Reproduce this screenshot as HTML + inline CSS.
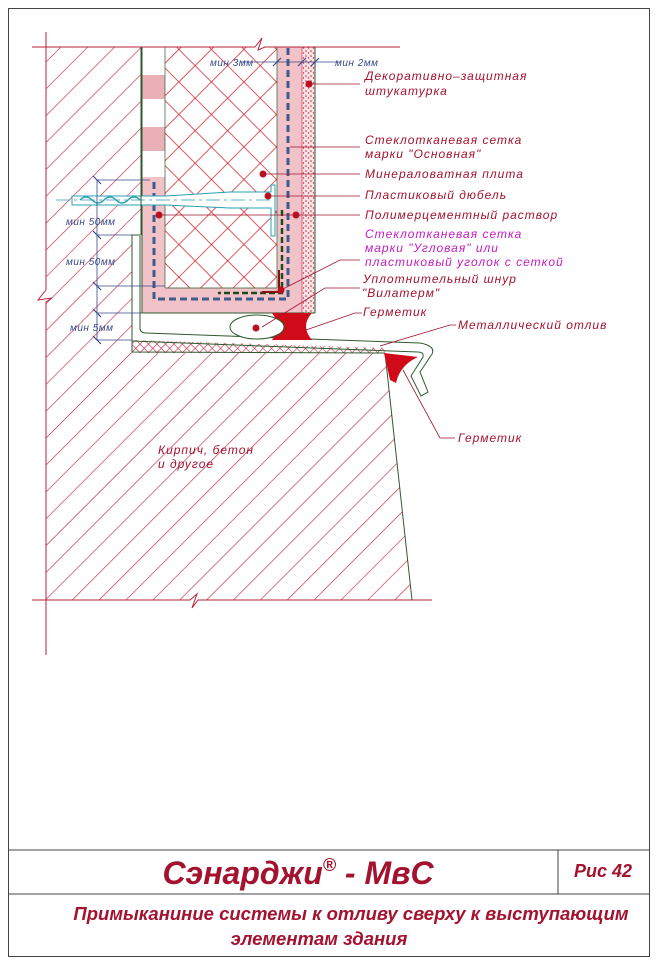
<!DOCTYPE html>
<html><head><meta charset="utf-8"><style>
html,body{margin:0;padding:0;background:#fff;}
svg{display:block}
text{font-family:"Liberation Sans","DejaVu Sans",sans-serif;}
.lb{font-style:italic;font-size:12px;fill:#a3122e;letter-spacing:1px}
.dm{font-style:italic;font-size:10px;fill:#3a4a8a;letter-spacing:0.5px}
</style></head><body>
<svg width="657" height="967" viewBox="0 0 657 967" xmlns="http://www.w3.org/2000/svg">
<defs>
<pattern id="diag" patternUnits="userSpaceOnUse" width="19" height="19" patternTransform="rotate(45)">
<line x1="0" y1="0" x2="0" y2="19" stroke="#c42a45" stroke-width="1.3"/>
</pattern>
<pattern id="cross" patternUnits="userSpaceOnUse" width="23" height="23" patternTransform="rotate(45)">
<line x1="0" y1="0" x2="0" y2="23" stroke="#d0202a" stroke-width="1.5"/>
<line x1="0" y1="0" x2="23" y2="0" stroke="#d0202a" stroke-width="1.5"/>
</pattern>
<pattern id="fine" patternUnits="userSpaceOnUse" width="6" height="6" patternTransform="rotate(45)">
<rect width="6" height="6" fill="#fff"/>
<line x1="0" y1="0" x2="0" y2="6" stroke="#c42a45" stroke-width="1.2"/>
<line x1="0" y1="0" x2="6" y2="0" stroke="#c42a45" stroke-width="1.2"/>
</pattern>
<pattern id="dots" patternUnits="userSpaceOnUse" width="5" height="5">
<rect width="5" height="5" fill="#f8e2e6"/>
<circle cx="1" cy="1" r="0.8" fill="#c42a45"/><circle cx="3.5" cy="3" r="0.7" fill="#c42a45"/>
</pattern>
</defs>

<rect x="8.5" y="8.5" width="641" height="948" fill="none" stroke="#444" stroke-width="1"/>
<line x1="8" y1="850" x2="650" y2="850" stroke="#444"/>
<line x1="8" y1="894" x2="650" y2="894" stroke="#444"/>
<line x1="558" y1="850" x2="558" y2="894" stroke="#444"/>

<path d="M46 47 H141 V235 H132 V353 H385 L412 600 H46 Z" fill="url(#diag)"/>
<path d="M132 340 L385 348 L385 353 H132 Z" fill="url(#fine)"/>
<rect x="142" y="47" width="160" height="266" fill="#f2c2c9"/>
<rect x="142" y="47" width="23" height="130" fill="#fff"/>
<rect x="142" y="75" width="25" height="24" fill="#eab0b8"/>
<rect x="142" y="127" width="25" height="24" fill="#eab0b8"/>
<rect x="165" y="47" width="112" height="241" fill="#fff"/>
<rect x="165" y="47" width="112" height="241" fill="url(#cross)"/>
<rect x="302" y="47" width="13" height="266" fill="url(#dots)"/>
<line x1="315" y1="47" x2="315" y2="313" stroke="#2d5a2d"/>
<line x1="302" y1="47" x2="302" y2="313" stroke="#c42a45" stroke-width="0.6"/>
<line x1="142" y1="47" x2="142" y2="313" stroke="#2d5a2d"/>
<line x1="142" y1="313" x2="315" y2="313" stroke="#2d5a2d"/>
<line x1="165" y1="47" x2="165" y2="288" stroke="#2d5a2d" stroke-width="0.7"/>
<line x1="165" y1="288" x2="277" y2="288" stroke="#2d5a2d" stroke-width="0.7"/>
<line x1="277" y1="47" x2="277" y2="288" stroke="#2d5a2d" stroke-width="0.7"/>
<path d="M154 182 V299 H288 V47" fill="none" stroke="#3d5c8a" stroke-width="3" stroke-dasharray="7,4"/>
<path d="M282 210 V293 H218" fill="none" stroke="#1f4a1f" stroke-width="2.5" stroke-dasharray="6,3"/>
<path d="M279 270 V292 H262" fill="none" stroke="#8a1010" stroke-width="2"/>
<path d="M72 196 H165 L230 192 H271 V185 H275 V236 H271 V208 H230 L165 205 H72 Z" fill="#fff" stroke="#2aa0b0" stroke-width="1"/>
<path d="M80 200 q6 -6 12 0 t12 0 t12 0 t12 0 t12 0" fill="none" stroke="#2aa0b0" stroke-width="1.5"/>
<line x1="56" y1="200" x2="270" y2="200" stroke="#2aa0b0" stroke-width="0.8" stroke-dasharray="14,4,3,4"/>
<line x1="32" y1="47" x2="255" y2="47" stroke="#b8203a"/>
<path d="M255 47 L262 38 L258 50 L265 47 H400" fill="none" stroke="#b8203a"/>
<line x1="46" y1="32" x2="46" y2="290" stroke="#b8203a"/>
<path d="M46 290 L38 300 L52 298 L46 302 V655" fill="none" stroke="#b8203a"/>
<line x1="32" y1="600" x2="190" y2="600" stroke="#b8203a"/>
<path d="M190 600 L197 594 L192 608 L198 600 H432" fill="none" stroke="#b8203a"/>
<line x1="141" y1="47" x2="141" y2="235" stroke="#2d5a2d"/>
<line x1="385" y1="353" x2="412" y2="600" stroke="#2d5a2d"/>
<path d="M141 235 H132 V352 L385 353" fill="none" stroke="#2d5a2d"/>
<path d="M140 236 V328 Q140 333 146 333 L420 343 Q436 346 432 354 L420 372 L428 392 L421 396 L411 376 L423 357 Q424 352 418 352 L132 341" fill="none" stroke="#2d5a2d"/>
<path d="M272 313 H312 Q300 326 312 340 H272 Q282 326 272 313 Z" fill="#d10a1a"/>
<ellipse cx="257" cy="327" rx="27" ry="12" fill="#fff" stroke="#2d5a2d"/>
<path d="M384 353 L418 357 Q400 365 396 383 L390 380 Z" fill="#d10a1a"/>
<g stroke="#3a4a8a" stroke-width="0.8">
<line x1="97" y1="180" x2="97" y2="340"/>
<line x1="97" y1="180" x2="150" y2="180"/>
<line x1="97" y1="235" x2="132" y2="235"/>
<line x1="97" y1="286" x2="165" y2="286"/>
<line x1="97" y1="313" x2="142" y2="313"/>
<line x1="97" y1="340" x2="132" y2="340"/>
<line x1="240" y1="62" x2="340" y2="62"/>
</g>
<g stroke="#3a4a8a" stroke-width="1.2">
<line x1="93" y1="176" x2="101" y2="184"/><line x1="93" y1="231" x2="101" y2="239"/>
<line x1="93" y1="282" x2="101" y2="290"/><line x1="93" y1="309" x2="101" y2="317"/>
<line x1="93" y1="336" x2="101" y2="344"/>
<line x1="273" y1="66" x2="281" y2="58"/><line x1="298" y1="66" x2="306" y2="58"/><line x1="311" y1="66" x2="319" y2="58"/>
</g>
<text class="dm" x="66" y="225">мин 50мм</text>
<text class="dm" x="66" y="265">мин 50мм</text>
<text class="dm" x="70" y="331">мин 5мм</text>
<text class="dm" x="210" y="66">мин 3мм</text>
<text class="dm" x="335" y="66">мин 2мм</text>
<g stroke="#a3122e" stroke-width="0.8" fill="none">
<line x1="309" y1="84" x2="360" y2="84"/>
<line x1="290" y1="147" x2="360" y2="147"/>
<line x1="263" y1="174" x2="360" y2="174"/>
<line x1="268" y1="196" x2="360" y2="196"/>
<line x1="159" y1="215" x2="360" y2="215"/>
<polyline points="281,290 340,260 360,260"/>
<polyline points="262,327 325,288 360,288"/>
<polyline points="306,330 355,313 362,313"/>
<polyline points="380,346 450,325 456,325"/>
<polyline points="403,370 440,438 455,438"/>
</g>
<g fill="#b8101e">
<circle cx="309" cy="84" r="3.5"/><circle cx="263" cy="174" r="3.5"/><circle cx="268" cy="196" r="3.5"/>
<circle cx="159" cy="215" r="3.5"/><circle cx="296" cy="215" r="3.5"/><circle cx="281" cy="290" r="3.5"/><circle cx="256" cy="328" r="3.5"/>
</g>
<text class="lb" x="365" y="80">Декоративно–защитная</text>
<text class="lb" x="365" y="95">штукатурка</text>
<text class="lb" x="365" y="144">Стеклотканевая сетка</text>
<text class="lb" x="365" y="158">марки "Основная"</text>
<text class="lb" x="365" y="178">Минераловатная плита</text>
<text class="lb" x="365" y="199">Пластиковый дюбель</text>
<text class="lb" x="365" y="219">Полимерцементный раствор</text>
<text class="lb" x="365" y="238" style="fill:#c21cc0">Стеклотканевая сетка</text>
<text class="lb" x="365" y="252" style="fill:#c21cc0">марки "Угловая" или</text>
<text class="lb" x="365" y="266" style="fill:#c21cc0">пластиковый уголок с сеткой</text>
<text class="lb" x="363" y="283">Уплотнительный шнур</text>
<text class="lb" x="362" y="297">"Вилатерм"</text>
<text class="lb" x="363" y="316">Герметик</text>
<text class="lb" x="458" y="329">Металлический отлив</text>
<text class="lb" x="458" y="442">Герметик</text>
<text class="lb" x="158" y="454">Кирпич, бетон</text>
<text class="lb" x="158" y="468">и другое</text>
<text x="298" y="884" text-anchor="middle" style="font-weight:bold;font-style:italic;font-size:32px;fill:#a3122e">Сэнарджи<tspan font-size="18" dy="-13">®</tspan><tspan dy="13"> - МвС</tspan></text>
<text x="603" y="877" text-anchor="middle" style="font-weight:bold;font-style:italic;font-size:18px;fill:#a3122e">Рис 42</text>
<text x="351" y="920" text-anchor="middle" style="font-weight:bold;font-style:italic;font-size:18.5px;fill:#a3122e">Примыканиние системы к отливу сверху к выступающим</text>
<text x="319" y="945" text-anchor="middle" style="font-weight:bold;font-style:italic;font-size:18.5px;fill:#a3122e">элементам здания</text>
</svg>
</body></html>
